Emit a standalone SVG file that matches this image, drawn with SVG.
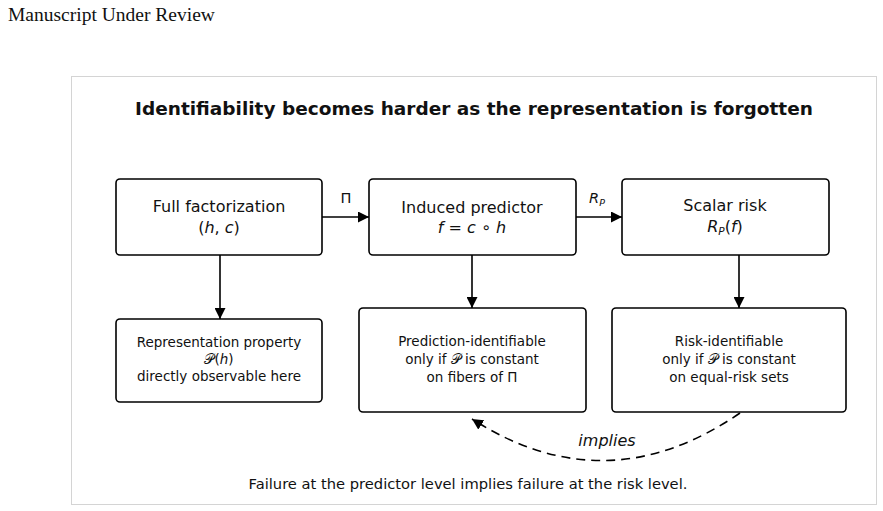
<svg xmlns="http://www.w3.org/2000/svg" width="883" height="511" viewBox="0 0 883 511">
<style>
.box{fill:#fff;stroke:#000;stroke-width:1.6}
.t{font-family:"DejaVu Sans",sans-serif;text-anchor:middle;fill:#111}
.big{font-size:16px}
.sm{font-size:13.5px}
.it{font-style:italic}
.cal{font-family:"DejaVu Serif",serif;font-style:normal}
.ln{stroke:#000;stroke-width:1.6;fill:none}
</style>
<defs>
<marker id="ah" viewBox="0 0 10 10" refX="10" refY="5" markerWidth="11" markerHeight="11" markerUnits="userSpaceOnUse" orient="auto">
<path d="M0,0 L10,5 L0,10 z" fill="#000"/>
</marker>
</defs>
<rect width="883" height="511" fill="#fff"/>
<text x="8" y="21" font-family="Liberation Serif, serif" font-size="19.5" fill="#111">Manuscript Under Review</text>
<rect x="71.5" y="76.5" width="805" height="428" fill="#fff" stroke="#d4d4d4" stroke-width="1"/>
<text class="t" x="474" y="115" font-size="18.5" font-weight="bold">Identifiability becomes harder as the representation is forgotten</text>

<g id="full">
<rect class="box" x="116" y="179" width="206" height="76" rx="4"/>
<text class="t big" x="219" y="212">Full factorization</text>
<text class="t big" x="219" y="233">(<tspan class="it">h</tspan>, <tspan class="it">c</tspan>)</text>
</g>
<g id="induced">
<rect class="box" x="369" y="179" width="207" height="76" rx="4"/>
<text class="t big" x="472" y="213">Induced predictor</text>
<text class="t big it" x="472" y="233">f = c ∘ h</text>
</g>
<g id="scalar">
<rect class="box" x="622" y="179" width="207" height="76" rx="4"/>
<text class="t big" x="725" y="211">Scalar risk</text>
<text class="t big" x="725" y="232"><tspan class="it">R</tspan><tspan class="it" font-size="10.5" dy="3">P</tspan><tspan dy="-3">(</tspan><tspan class="it">f</tspan>)</text>
</g>
<g id="repr">
<rect class="box" x="116" y="319" width="206" height="83" rx="4"/>
<text class="t sm" x="219" y="347">Representation property</text>
<text class="t sm" x="219" y="364"><tspan class="cal">𝒫</tspan>(<tspan class="it">h</tspan>)</text>
<text class="t sm" x="219" y="381">directly observable here</text>
</g>
<g id="predid">
<rect class="box" x="359" y="308" width="227" height="104" rx="4"/>
<text class="t sm" x="472" y="346">Prediction-identifiable</text>
<text class="t sm" x="472" y="364">only if <tspan class="cal">𝒫</tspan> is constant</text>
<text class="t sm" x="472" y="382">on fibers of Π</text>
</g>
<g id="riskid">
<rect class="box" x="612" y="308" width="234" height="104" rx="4"/>
<text class="t sm" x="729" y="346">Risk-identifiable</text>
<text class="t sm" x="729" y="364">only if <tspan class="cal">𝒫</tspan> is constant</text>
<text class="t sm" x="729" y="382">on equal-risk sets</text>
</g>

<g id="connectors">
<line class="ln" x1="322" y1="217" x2="369" y2="217" marker-end="url(#ah)"/>
<line class="ln" x1="576" y1="217" x2="622" y2="217" marker-end="url(#ah)"/>
<line class="ln" x1="220" y1="255" x2="220" y2="319" marker-end="url(#ah)"/>
<line class="ln" x1="472" y1="255" x2="472" y2="308" marker-end="url(#ah)"/>
<line class="ln" x1="739" y1="255" x2="739" y2="308" marker-end="url(#ah)"/>
<path class="ln" d="M740,413 Q606,505 472,419" stroke-width="2.2" stroke-dasharray="9,6" marker-end="url(#ah)"/>
<text class="t" x="346" y="203" font-size="14.5">Π</text>
<text class="t it" x="597" y="203" font-size="14.5">R<tspan font-size="9.5" dy="3">P</tspan></text>
<text class="t it" x="607" y="446" font-size="16">implies</text>
</g>

<text class="t" x="468" y="489" font-size="14.7">Failure at the predictor level implies failure at the risk level.</text>
</svg>
